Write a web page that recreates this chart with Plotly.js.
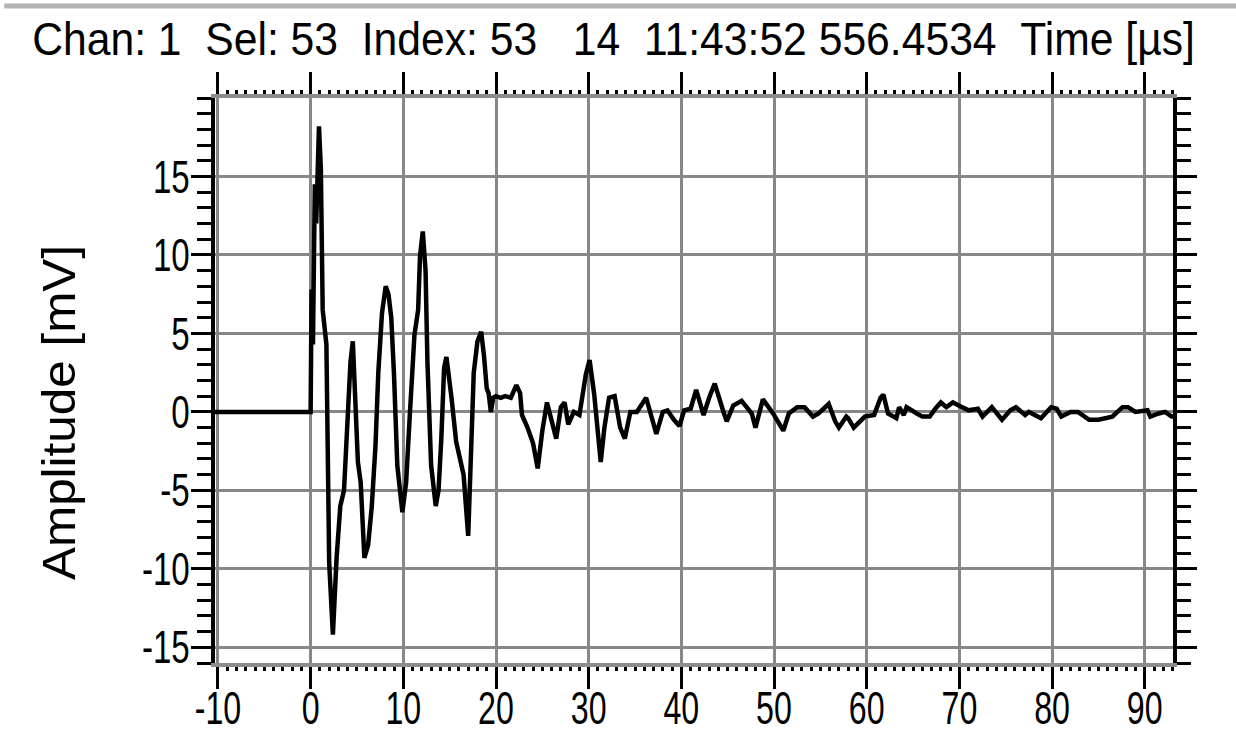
<!DOCTYPE html>
<html>
<head>
<meta charset="utf-8">
<script src="https://cdn.plot.ly/plotly-3.0.1.min.js"></script>
<style>html,body{margin:0;padding:0;background:#fff;}#chart{width:1236px;height:738px;}</style>
</head>
<body>
<div id="chart"></div>
<script>
const timeUs = [-10.4,0,0.1,0.25,0.45,0.6,0.9,1.1,1.3,1.5,1.7,2.0,2.4,2.8,3.2,3.6,4.0,4.3,4.55,4.8,5.1,5.4,5.8,6.2,6.6,7.0,7.3,7.7,8.1,8.4,8.7,9.0,9.35,9.9,10.3,10.7,11.2,11.6,11.8,12.1,12.4,12.6,13.0,13.5,13.8,14.1,14.4,14.65,15.0,15.2,15.7,16.1,16.5,17.0,17.3,17.6,18.0,18.4,18.7,19.0,19.2,19.45,19.7,20.0,20.5,21.0,21.6,22.2,22.6,22.8,23.4,24.0,24.5,25.0,25.5,26.0,26.5,27.0,27.4,27.8,28.4,29.0,29.7,30.1,30.6,31.3,31.7,32.2,32.8,33.4,33.9,34.5,35.2,36.2,36.8,37.3,38.0,38.5,39.2,39.8,40.3,41.0,41.6,42.4,43.0,43.6,44.6,44.9,45.6,46.5,47.6,48.0,48.8,49.9,51.0,51.6,52.5,53.3,54.2,54.8,55.9,56.6,57.0,57.8,58.0,58.6,59.8,60.8,61.5,61.8,62.3,63.2,63.5,64.0,64.3,65.0,65.4,66.0,66.8,67.4,68.0,68.6,69.3,70.3,71.0,72.0,72.5,73.5,74.6,75.5,76.1,77.1,77.5,78.8,79.9,80.5,81.0,82.0,82.8,84.0,85.0,86.5,87.6,88.2,89.0,90.3,90.6,91.5,92.2,92.9,93.1];
const amplitudeMv = [0,0,7.8,4.3,14.5,12.0,18.2,15.5,6.5,5.0,4.3,-9.6,-14.2,-9.3,-6.0,-5.0,0.5,3.2,4.5,1.4,-3.2,-4.5,-9.3,-8.5,-6.0,-2.1,2.5,6.3,8.0,7.5,6.0,2.3,-3.4,-6.4,-4.5,-0.2,4.9,6.5,9.9,11.5,9.0,3.2,-3.4,-6.0,-5.0,-1.7,2.8,3.5,2.0,0.9,-1.9,-3.0,-4.0,-7.9,-3.4,2.5,4.5,5.1,3.6,1.5,1.2,0.0,0.9,1.0,0.9,1.0,0.9,1.7,1.2,-0.2,-1.0,-2.0,-3.6,-1.2,0.6,-0.6,-1.7,0.3,0.6,-0.8,0.0,-0.2,2.4,3.3,1.1,-3.2,-1.0,0.9,1.0,-1.0,-1.7,0.0,0.0,0.9,-0.4,-1.4,0.0,0.1,-0.5,-0.9,0.1,0.2,1.4,-0.2,0.9,1.8,-0.1,-0.6,0.4,0.7,-0.1,-1.0,0.8,-0.1,-1.2,-0.1,0.3,0.3,-0.3,-0.1,0.5,-0.6,-1.0,-0.3,-0.4,-1.0,-0.3,-0.2,0.9,1.1,-0.1,-0.4,0.3,-0.2,0.3,0.0,-0.1,-0.3,-0.3,0.2,0.6,0.3,0.6,0.3,0.1,0.2,-0.3,0.3,-0.5,0.1,0.3,-0.2,0.0,-0.4,0.3,0.2,-0.3,0.0,0.0,-0.5,-0.5,-0.3,0.3,0.3,0.0,0.1,-0.3,-0.1,0.0,-0.3,-0.3];

const xTickVals = [-10,0,10,20,30,40,50,60,70,80,90];
const xTickText = ['-10','0','10','20','30','40','50','60','70','80','90'];
const yTickVals = [-15,-10,-5,0,5,10,15];
const yTickText = ['-15','-10','-5','0','5','10','15'];

const titleText = 'Chan: 1\u00a0\u00a0Sel: 53\u00a0\u00a0Index: 53\u00a0\u00a0\u00a014\u00a0\u00a011:43:52 556.4534\u00a0\u00a0Time [\u00b5s]';
const yTitleText = 'Amplitude [mV]';

const sans = 'Liberation Sans, Arial, sans-serif';

const trace = {
  x: timeUs, y: amplitudeMv, type: 'scatter', mode: 'lines',
  line: {color: '#000000', width: 4.5, shape: 'linear'},
  hoverinfo: 'skip'
};

const layout = {
  width: 1236, height: 738,
  margin: {l: 215, r: 63, t: 98, b: 75, pad: 0},
  paper_bgcolor: '#ffffff', plot_bgcolor: '#ffffff',
  showlegend: false,
  title: {text: titleText, font: {family: sans, size: 47, color: '#000'},
          x: 0.4964, xanchor: 'center', xref: 'container', y: 0.948, yanchor: 'middle', yref: 'container'},
  xaxis: {
    range: [-10.32, 93.05], autorange: false, fixedrange: true,
    tickmode: 'array', tickvals: xTickVals, ticktext: xTickText,
    ticks: 'outside', ticklen: 22, tickwidth: 3, tickcolor: '#000',
    ticklabelstandoff: -20,
    showline: true, linecolor: '#8c8c8c', linewidth: 4, mirror: 'allticks',
    showgrid: true, gridcolor: '#878787', gridwidth: 3, zeroline: false,
    tickfont: {family: sans, size: 46, color: '#000'},
    minor: {tickmode: 'linear', tick0: 0, dtick: 1, ticks: 'outside', ticklen: 4, tickwidth: 3, tickcolor: '#000', showgrid: false}
  },
  yaxis: {
    range: [-16, 20], autorange: false, fixedrange: true,
    tickmode: 'array', tickvals: yTickVals, ticktext: yTickText,
    ticks: 'outside', ticklen: 20, tickwidth: 3, tickcolor: '#000',
    ticklabelstandoff: -8,
    showline: true, linecolor: '#000', linewidth: 4, mirror: 'allticks',
    showgrid: true, gridcolor: '#878787', gridwidth: 3, zeroline: false,
    tickfont: {family: sans, size: 46, color: '#000'},
    title: {text: yTitleText, font: {family: sans, size: 47, color: '#000'}, standoff: 34},
    minor: {tickmode: 'linear', tick0: 0, dtick: 1, ticks: 'outside', ticklen: 14, tickwidth: 3, tickcolor: '#000', showgrid: false}
  },
  shapes: [
    {type: 'line', xref: 'paper', yref: 'paper', x0: -0.22, x1: 1.07, y0: 1.1628, y1: 1.1628,
     line: {color: '#b4b4b4', width: 5}}
  ]
};

// Horizontally condense text glyphs (the reference uses a tall, narrow font).
function condense(gd, selector, scale, targetWidth, shiftLocal) {
  gd.querySelectorAll(selector).forEach(function (el) {
    const bb = el.getBBox();
    if (!bb.width) return;
    const anchor = el.getAttribute('text-anchor') || 'start';
    const ax = anchor === 'end' ? bb.x + bb.width : (anchor === 'middle' ? bb.x + bb.width / 2 : bb.x);
    const s = targetWidth ? targetWidth / bb.width : scale;
    const t = el.getAttribute('transform') || '';
    el.setAttribute('transform', t + ' translate(' + (ax + (shiftLocal || 0)) + ',0) scale(' + s + ',1) translate(' + (-ax) + ',0)');
  });
}

Plotly.newPlot('chart', [trace], layout, {displayModeBar: false, staticPlot: true}).then(function (gd) {
  condense(gd, '.xtick text', 0.7);
  condense(gd, '.ytick text', 0.72);
  condense(gd, '.gtitle', null, 1163);
  condense(gd, '.ytitle', null, 335, -32);
});
</script>
</body>
</html>
